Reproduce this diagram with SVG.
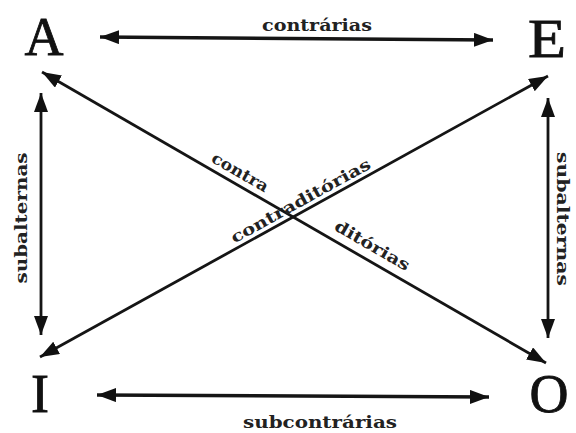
<svg xmlns="http://www.w3.org/2000/svg" width="576" height="433" viewBox="0 0 576 433">
  <style>
    .letter { font-family: "Liberation Serif", "Times New Roman", serif; font-size: 54px; fill: #111; stroke: #111; stroke-width: 0.8; text-anchor: middle; }
    .lbl { font-family: "DejaVu Serif", "Liberation Serif", serif; font-weight: bold; font-size: 16px; fill: #222; text-anchor: middle; }
    .conn { stroke: #151515; fill: none; }
  </style>
  <defs>
    <marker id="ah" markerUnits="userSpaceOnUse" markerWidth="20" markerHeight="15" refX="19" refY="7" orient="auto-start-reverse">
      <path d="M0,0 L19,7 L0,14 Z" fill="#111"/>
    </marker>
  </defs>
  <rect width="576" height="433" fill="#ffffff"/>

  <g id="connectors">
    <g id="contrarias">
      <line class="conn" x1="100" y1="37" x2="493" y2="40" stroke-width="3.4" marker-start="url(#ah)" marker-end="url(#ah)"/>
      <text class="lbl" x="317" y="31" textLength="110" lengthAdjust="spacingAndGlyphs">contrárias</text>
    </g>
    <g id="subcontrarias">
      <line class="conn" x1="97" y1="395" x2="489" y2="397" stroke-width="3.4" marker-start="url(#ah)" marker-end="url(#ah)"/>
      <text class="lbl" x="320" y="428" textLength="154" lengthAdjust="spacingAndGlyphs">subcontrárias</text>
    </g>
    <g id="subalternas-left">
      <line class="conn" x1="41" y1="93" x2="41" y2="335" stroke-width="2.8" marker-start="url(#ah)" marker-end="url(#ah)"/>
      <text class="lbl" transform="translate(27,218) rotate(-90)" x="0" y="0" textLength="131" lengthAdjust="spacingAndGlyphs">subalternas</text>
    </g>
    <g id="subalternas-right">
      <line class="conn" x1="548" y1="98" x2="548" y2="338" stroke-width="2.8" marker-start="url(#ah)" marker-end="url(#ah)"/>
      <text class="lbl" transform="translate(557,219) rotate(90)" x="0" y="0" textLength="134" lengthAdjust="spacingAndGlyphs">subalternas</text>
    </g>
    <g id="contraditorias-AO">
      <line class="conn" x1="42" y1="72" x2="546" y2="363" stroke-width="2.8" marker-start="url(#ah)" marker-end="url(#ah)"/>
      <text class="lbl" transform="translate(234,183) rotate(30)" x="0" y="-7" textLength="63" lengthAdjust="spacingAndGlyphs">contra</text>
      <text class="lbl" transform="translate(365,258) rotate(30)" x="0" y="-9" textLength="84" lengthAdjust="spacingAndGlyphs">ditórias</text>
    </g>
    <g id="contraditorias-IE">
      <line class="conn" x1="40" y1="357" x2="548" y2="76" stroke-width="2.8" marker-start="url(#ah)" marker-end="url(#ah)"/>
      <text class="lbl" transform="translate(305.6,210) rotate(-28.95)" x="0" y="-5" textLength="157" lengthAdjust="spacingAndGlyphs">contraditórias</text>
    </g>
  </g>

  <g id="node-A"><text class="letter" x="44" y="55">A</text></g>
  <g id="node-E"><text class="letter" x="547" y="57" textLength="38" lengthAdjust="spacingAndGlyphs">E</text></g>
  <g id="node-I"><text class="letter" x="40" y="412">I</text></g>
  <g id="node-O"><text class="letter" x="549" y="412">O</text></g>
</svg>
